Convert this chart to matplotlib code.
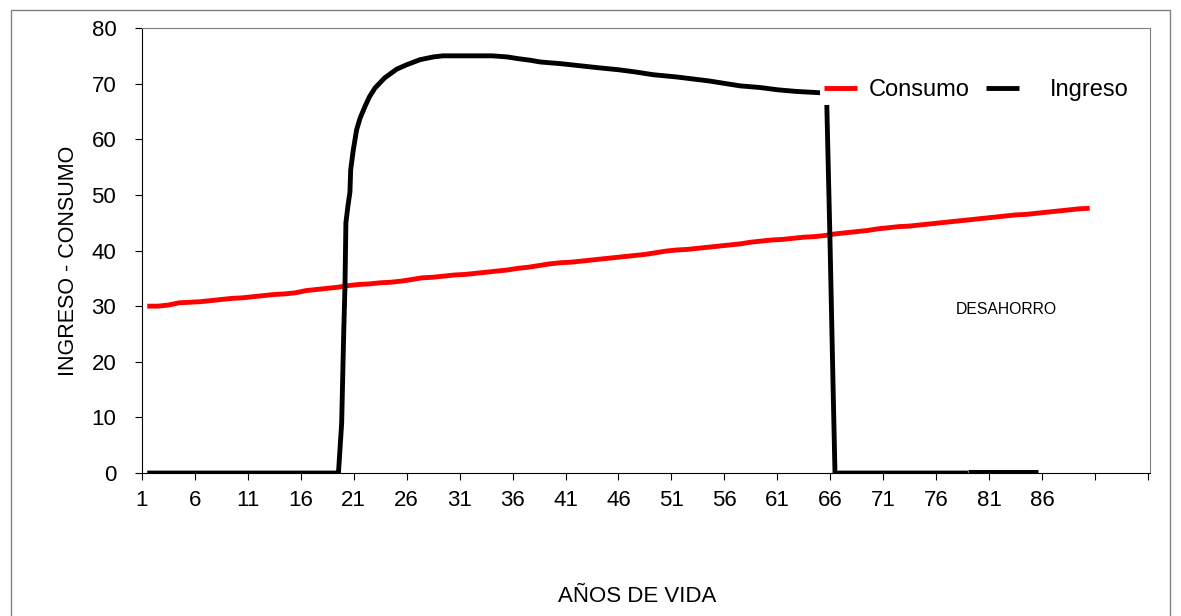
import numpy as np
import matplotlib
matplotlib.use("Agg")
import matplotlib.pyplot as plt
from matplotlib.patches import Rectangle

plt.rcParams["font.family"] = ["Liberation Sans", "DejaVu Sans"]

# Consumo: one value per year of life
edad = list(range(1, 91))
consumo = [
    30.0, 30.0, 30.2, 30.6, 30.7, 30.8, 31.0, 31.2, 31.4, 31.5,
    31.7, 31.9, 32.1, 32.2, 32.4, 32.8, 33.0, 33.2, 33.4, 33.7,
    33.9, 34.0, 34.2, 34.3, 34.5, 34.8, 35.1, 35.2, 35.4, 35.6,
    35.7, 35.9, 36.1, 36.3, 36.5, 36.8, 37.0, 37.3, 37.6, 37.8,
    37.9, 38.1, 38.3, 38.5, 38.7, 38.9, 39.1, 39.3, 39.6, 39.9,
    40.1, 40.2, 40.4, 40.6, 40.8, 41.0, 41.2, 41.5, 41.7, 41.9,
    42.0, 42.2, 42.4, 42.5, 42.7, 43.0, 43.2, 43.4, 43.6, 43.9,
    44.1, 44.3, 44.4, 44.6, 44.8, 45.0, 45.2, 45.4, 45.6, 45.8,
    46.0, 46.2, 46.4, 46.5, 46.7, 46.9, 47.1, 47.3, 47.5, 47.6,
]

# Ingreso: hand-traced curve
edad_ingreso = [
    1, 5, 10, 15, 18.9, 19.05, 19.36, 19.55, 19.67, 19.76, 19.95, 20.14,
    20.21, 20.45, 20.77, 21.1, 21.56, 22.0, 22.5, 23.4, 24.55, 25.5, 26.75,
    28.0, 28.92, 31.0, 33.6, 35.0, 36.0, 37.2, 38.1, 40.0, 43.4, 45.5, 47.1,
    48.8, 51.0, 54.0, 57.0, 58.9, 60.5, 62.3, 64.2, 65.15, 65.25, 65.46,
    65.78, 65.95, 66.3, 78.5,
]
ingreso = [
    0, 0, 0, 0, 0, -0.2, 9, 25, 33.5, 45, 48, 50.5,
    54.5, 58, 61.7, 63.8, 65.9, 67.7, 69.2, 71.0, 72.6, 73.4, 74.3,
    74.8, 75.0, 75.0, 75.0, 74.8, 74.5, 74.2, 73.9, 73.6, 72.9, 72.5, 72.1,
    71.6, 71.2, 70.5, 69.6, 69.3, 68.9, 68.6, 68.4, 68.3, 59.9, 43.1,
    14.3, -0.3, 0, 0,
]
edad_tramo = [78.5, 85.1]
tramo = [0, 0]

etiquetas_x = ["1", "6", "11", "16", "21", "26", "31", "36", "41", "46",
               "51", "56", "61", "66", "71", "76", "81", "86", "", ""]

fig = plt.figure(figsize=(11.81, 6.16), dpi=100)
ax = fig.add_axes([0.1202, 0.2321, 0.8536, 0.7224])

ax.plot(edad, consumo, color="#ff0000", lw=3.5, label="Consumo", solid_capstyle="butt")
ax.plot(edad_ingreso, ingreso, color="black", lw=3.5, label="Ingreso", solid_capstyle="butt")
ax.plot(edad_tramo, tramo, color="black", lw=5, solid_capstyle="butt")

ax.set_xlim(0.5, 95.7)
ax.set_ylim(0, 80)
ax.set_xticks(np.arange(0.5, 96, 5))
ax.set_xticklabels(etiquetas_x)
ax.set_yticks(range(0, 81, 10))
ax.tick_params(axis="y", labelsize=16, length=5, pad=13.5, direction="out")
ax.tick_params(axis="x", labelsize=16, length=5, pad=7, direction="out")

for s in ["top", "right"]:
    ax.spines[s].set_color("#808080")
for s in ["left", "bottom"]:
    ax.spines[s].set_color("black")

ax.set_ylabel("INGRESO - CONSUMO", fontsize=15.5)
ax.yaxis.set_label_coords(79 / 1181, 1 - 261 / 616, transform=fig.transFigure)
fig.text(637 / 1181, 1 - 597 / 616, "AÑOS DE VIDA", fontsize=16, ha="center", va="center")
ax.text(1006 / 1181, 1 - 310 / 616, "DESAHORRO", fontsize=11.3, ha="center", va="center",
        transform=fig.transFigure)

leg = ax.legend(loc="center left", bbox_to_anchor=(820 / 1181, 1 - 90 / 616),
                bbox_transform=fig.transFigure, ncol=2, fontsize=17, frameon=True,
                facecolor="white", edgecolor="none", framealpha=1, fancybox=False,
                borderpad=0.15, borderaxespad=0, handlelength=1.4, handletextpad=0.5,
                columnspacing=0.7)
# wider gap between the black handle and "Ingreso", as in the original
leg._legend_handle_box.get_children()[1].get_children()[0].sep = 22

fig.patches.append(Rectangle((11 / 1181, -0.02), 1159 / 1181, 1 - 10 / 616 + 0.02,
                             transform=fig.transFigure, fill=False,
                             edgecolor="#808080", lw=1))

fig.savefig("out.png", dpi=100)
